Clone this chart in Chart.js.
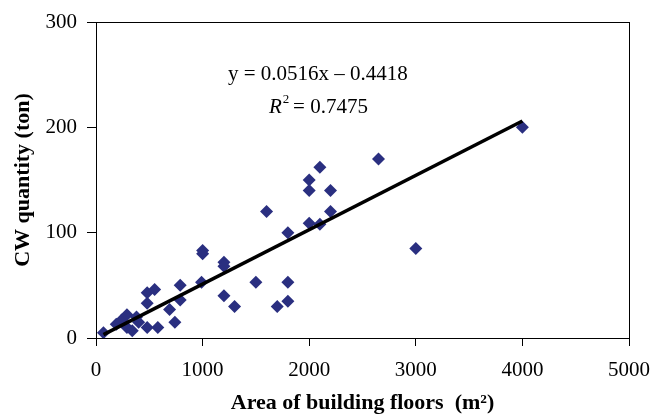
<!DOCTYPE html>
<html lang="en">
<head>
    <meta charset="UTF-8">
    <title>CW quantity vs floor area</title>
    <script src="https://cdn.jsdelivr.net/npm/chart.js"></script>
    <style>
        body { margin: 0; background: #fff; }
        #wrap { width: 654px; height: 420px; }
    </style>
</head>
<body>
    <div id="wrap"><canvas id="chart" width="654" height="420"></canvas></div>
    <script>
        // floor area (m2) and CW quantity (ton)
        const areaValues = [70, 190, 240, 290, 290, 340, 380, 400, 480, 480, 480, 550, 580, 690, 740, 790, 790,
            990, 1000, 1000, 1200, 1200, 1200, 1300, 1500, 1600, 1700, 1800, 1800, 1800,
            2000, 2000, 2000, 2100, 2100, 2200, 2200, 2650, 3000, 4000];
        const cwValues = [5, 13, 17, 22, 10, 7, 20, 15, 43, 33, 10, 46, 10, 27, 15, 50, 36,
            53, 80, 83, 72, 68, 40, 30, 53, 120, 30, 100, 53, 35,
            150, 140, 109, 162, 108, 140, 120, 170, 85, 200];
        // trendline ends (y = 0.0516x - 0.4418)
        const trendX = [70, 4000];
        const trendY = [3.2, 206.0];
        const xTicks = [0, 1000, 2000, 3000, 4000, 5000];
        const yTicks = [0, 100, 200, 300];

        const serif = 'Liberation Serif, Times New Roman, serif';

        const boxPlugin = {
            id: 'box',
            afterDraw(chart) {
                const { ctx, chartArea: a } = chart;
                ctx.save();
                ctx.strokeStyle = '#000';
                ctx.lineWidth = 1;
                ctx.strokeRect(a.left + 0.5, a.top + 0.5, a.right - a.left, a.bottom - a.top);
                // equation text
                ctx.fillStyle = '#000';
                ctx.textBaseline = 'alphabetic';
                ctx.font = '21px ' + serif;
                ctx.textAlign = 'left';
                ctx.fillText('y = 0.0516x \u2013 0.4418', 228, 80);
                ctx.font = 'italic 21px ' + serif;
                ctx.fillText('R', 269, 113);
                const rw = ctx.measureText('R').width;
                ctx.font = '13px ' + serif;
                ctx.fillText('2', 269 + rw + 1, 103);
                ctx.font = '21px ' + serif;
                ctx.fillText(' = 0.7475', 269 + rw + 6, 113);
                ctx.restore();
            }
        };

        new Chart(document.getElementById('chart').getContext('2d'), {
            type: 'scatter',
            data: {
                datasets: [{
                    label: 'CW',
                    data: areaValues.map((x, i) => ({ x, y: cwValues[i] })),
                    pointStyle: 'rectRot',
                    pointRadius: 6.5,
                    backgroundColor: '#2A2F80',
                    borderColor: '#2A2F80',
                    borderWidth: 0,
                    order: 2
                }, {
                    type: 'line',
                    label: 'Trend',
                    data: trendX.map((x, i) => ({ x, y: trendY[i] })),
                    borderColor: '#000',
                    borderWidth: 3.5,
                    pointRadius: 0,
                    fill: false,
                    order: 1
                }]
            },
            options: {
                responsive: false,
                animation: false,
                layout: { padding: { left: 0, top: 22, right: 25, bottom: 0 } },
                plugins: { legend: { display: false }, tooltip: { enabled: false } },
                scales: {
                    x: {
                        type: 'linear',
                        min: 0, max: 5000,
                        afterBuildTicks: s => { s.ticks = xTicks.map(v => ({ value: v })); },
                        afterFit: s => { s.height = 82; s.paddingLeft = 0; s.paddingRight = 0; },
                        grid: { drawOnChartArea: false, color: '#000', tickLength: 8 },
                        border: { color: '#000' },
                        ticks: { color: '#000', font: { family: serif, size: 21 }, padding: 12, maxRotation: 0,
                            callback: v => String(v) },
                        title: {
                            display: true, text: 'Area of building floors  (m\u00B2)', color: '#000',
                            font: { family: serif, size: 22, weight: 'bold' }, padding: { top: 0, bottom: 3 }
                        }
                    },
                    y: {
                        min: 0, max: 300,
                        afterBuildTicks: s => { s.ticks = yTicks.map(v => ({ value: v })); },
                        afterFit: s => { s.width = 96; s.paddingTop = 0; s.paddingBottom = 0; },
                        grid: { drawOnChartArea: false, color: '#000', tickLength: 9 },
                        border: { color: '#000' },
                        ticks: { color: '#000', font: { family: serif, size: 21 }, padding: 10,
                            callback: v => String(v) },
                        title: {
                            display: true, text: 'CW quantity (ton)', color: '#000',
                            font: { family: serif, size: 22, weight: 'bold' }, padding: { top: 10, bottom: 0 }
                        }
                    }
                }
            },
            plugins: [boxPlugin]
        });
    </script>
</body>
</html>
